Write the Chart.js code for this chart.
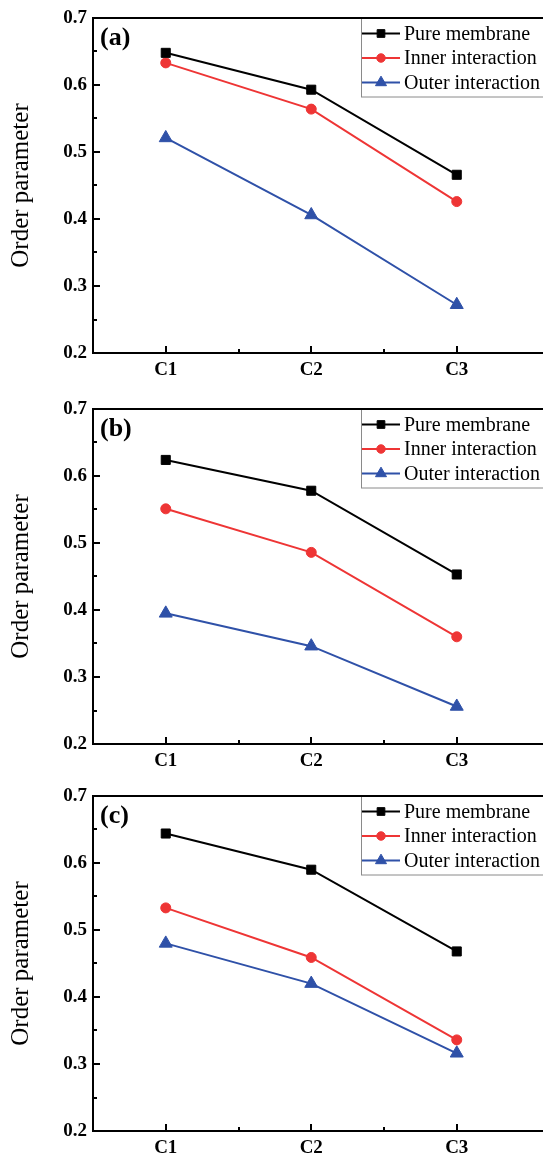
<!DOCTYPE html>
<html><head><meta charset="utf-8">
<script src="https://cdn.jsdelivr.net/npm/chart.js@4/dist/chart.umd.min.js"></script>
<style>
html,body{margin:0;padding:0;background:#fff;overflow:hidden;}
body{width:543px;height:1157px;position:relative;}
canvas{position:absolute;left:0;display:block;}
</style></head><body>
<canvas id="ca" width="543" height="391" style="top:0px"></canvas>
<canvas id="cb" width="543" height="387" style="top:391px"></canvas>
<canvas id="cc" width="543" height="379" style="top:778px"></canvas>
<script>
// ---- data ----
const categories = ['C1', 'C2', 'C3'];
const seriesNames = ['Pure membrane', 'Inner interaction', 'Outer interaction'];
const panelLabels = ['(a)', '(b)', '(c)'];
const yMajorTicks = [0.2, 0.3, 0.4, 0.5, 0.6, 0.7];
const yMinorTicks = [0.25, 0.35, 0.45, 0.55, 0.65];
const xMajorTicks = [1, 2, 3];
const xMinorTicks = [1.5, 2.5];

const pureA  = [0.648, 0.593, 0.466];
const innerA = [0.633, 0.564, 0.426];
const outerA = [0.521, 0.406, 0.272];

const pureB  = [0.624, 0.578, 0.453];
const innerB = [0.551, 0.486, 0.360];
const outerB = [0.395, 0.346, 0.256];

const pureC  = [0.644, 0.590, 0.468];
const innerC = [0.533, 0.459, 0.336];
const outerC = [0.480, 0.420, 0.316];

// ---- styles ----
const colors = ['#000000', '#ee3535', '#2f51a8'];
const pointStyles = ['rect', 'circle', 'triangle'];
const pointRadii = [6.4, 5, 7.5];
const SERIF = '"Liberation Serif", "Times New Roman", serif';

function drawMarker(ctx, style, r, x, y, color) {
  ctx.save();
  ctx.fillStyle = color; ctx.strokeStyle = color; ctx.lineWidth = 1;
  ctx.beginPath();
  if (style === 'rect') {
    const s = Math.SQRT1_2 * r;
    ctx.rect(x - s, y - s, 2 * s, 2 * s);
  } else if (style === 'circle') {
    ctx.arc(x, y, r, 0, Math.PI * 2);
  } else {
    const a = Math.PI * 2 / 3;
    ctx.moveTo(x, y - r);
    ctx.lineTo(x + Math.sin(a) * r, y - Math.cos(a) * r);
    ctx.lineTo(x + Math.sin(2 * a) * r, y - Math.cos(2 * a) * r);
    ctx.closePath();
  }
  ctx.fill(); ctx.stroke();
  ctx.restore();
}

const framePlugin = {
  id: 'frame',
  afterDraw(chart, args, opts) {
    const ctx = chart.ctx;
    const {left, top, right, bottom} = chart.chartArea;
    const x = chart.scales.x, y = chart.scales.y;
    ctx.save();
    // legend box
    const bx = 361.5, by = top, bh = 79;
    ctx.strokeStyle = '#8a8a8a'; ctx.lineWidth = 1;
    ctx.strokeRect(bx, by, chart.width - bx + 10, bh);
    const rows = [15.5, 40, 64.5];
    ctx.font = '20px ' + SERIF;
    ctx.textBaseline = 'middle'; ctx.textAlign = 'left';
    seriesNames.forEach((name, i) => {
      const yy = top + rows[i];
      ctx.strokeStyle = colors[i]; ctx.lineWidth = 2;
      ctx.beginPath(); ctx.moveTo(362, yy); ctx.lineTo(400, yy); ctx.stroke();
      drawMarker(ctx, pointStyles[i], pointRadii[i] * 0.85, 381, yy, colors[i]);
      ctx.fillStyle = '#000';
      ctx.fillText(name, 404, yy + 1);
    });
    // top border
    ctx.strokeStyle = '#000'; ctx.lineWidth = 2;
    ctx.beginPath(); ctx.moveTo(left - 1, top); ctx.lineTo(chart.width, top); ctx.stroke();
    // inward ticks
    ctx.lineWidth = 2;
    yMajorTicks.forEach(v => { const p = Math.round(y.getPixelForValue(v)); ctx.beginPath(); ctx.moveTo(left, p); ctx.lineTo(left + 7, p); ctx.stroke(); });
    yMinorTicks.forEach(v => { const p = Math.round(y.getPixelForValue(v)); ctx.beginPath(); ctx.moveTo(left, p); ctx.lineTo(left + 4, p); ctx.stroke(); });
    xMajorTicks.forEach(v => { const p = Math.round(x.getPixelForValue(v)); ctx.beginPath(); ctx.moveTo(p, bottom); ctx.lineTo(p, bottom - 7); ctx.stroke(); });
    xMinorTicks.forEach(v => { const p = Math.round(x.getPixelForValue(v)); ctx.beginPath(); ctx.moveTo(p, bottom); ctx.lineTo(p, bottom - 4); ctx.stroke(); });
    // panel label
    ctx.fillStyle = '#000';
    ctx.font = 'bold 26px ' + SERIF;
    ctx.textBaseline = 'middle'; ctx.textAlign = 'left';
    ctx.fillText(opts.label, left + 7, top + 20);
    ctx.restore();
  }
};

function zeroPad(s) { s.paddingLeft = 0; s.paddingRight = 0; s.paddingTop = 0; s.paddingBottom = 0; }

function makeChart(id, label, pure, inner, outer) {
  const canvas = document.getElementById(id);
  const H = canvas.height;
  const series = [pure, inner, outer];
  return new Chart(canvas, {
    type: 'line',
    data: {
      datasets: series.map((vals, i) => ({
        label: seriesNames[i],
        data: vals.map((v, k) => ({x: xMajorTicks[k], y: v})),
        borderColor: colors[i],
        backgroundColor: colors[i],
        borderWidth: 2,
        pointStyle: pointStyles[i],
        pointRadius: pointRadii[i],
        pointHoverRadius: pointRadii[i],
        pointBorderWidth: 1,
        pointBackgroundColor: colors[i],
        pointBorderColor: colors[i],
        tension: 0,
        clip: false
      }))
    },
    options: {
      responsive: false,
      animation: false,
      events: [],
      layout: {autoPadding: false, padding: {top: 18, right: 0, bottom: 0, left: 0}},
      plugins: {
        legend: {display: false},
        tooltip: {enabled: false},
        frame: {label: label}
      },
      scales: {
        x: {
          type: 'linear',
          min: 0.5,
          max: 0.5 + 450 / 145.5,
          grid: {display: false, drawTicks: false},
          border: {display: true, color: '#000', width: 2},
          afterBuildTicks: s => { s.ticks = xMajorTicks.map(v => ({value: v})); },
          afterFit: s => { s.height = H - 353; zeroPad(s); },
          ticks: {
            color: '#000',
            padding: 6,
            maxRotation: 0,
            autoSkip: false,
            font: {family: SERIF, size: 19, weight: 'bold'},
            callback: v => categories[Math.round(v) - 1]
          }
        },
        y: {
          type: 'linear',
          min: 0.2,
          max: 0.7,
          grid: {display: false, drawTicks: false},
          border: {display: true, color: '#000', width: 2},
          afterBuildTicks: s => { s.ticks = yMajorTicks.map(v => ({value: v})); },
          afterFit: s => { s.width = 93; zeroPad(s); },
          title: {
            display: true,
            text: 'Order parameter',
            color: '#000',
            font: {family: SERIF, size: 25, weight: 'normal'},
            padding: {top: 6, bottom: 4}
          },
          ticks: {
            color: '#000',
            padding: 6,
            font: {family: SERIF, size: 19, weight: 'bold'},
            callback: v => Number(v).toFixed(1)
          }
        }
      }
    },
    plugins: [framePlugin]
  });
}

makeChart('ca', panelLabels[0], pureA, innerA, outerA);
makeChart('cb', panelLabels[1], pureB, innerB, outerB);
makeChart('cc', panelLabels[2], pureC, innerC, outerC);
</script>
</body></html>
